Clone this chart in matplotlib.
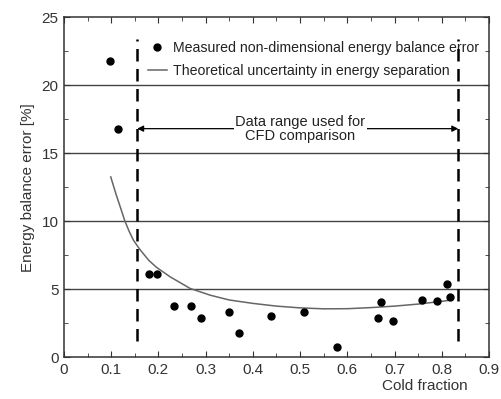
import matplotlib
matplotlib.use("Agg")
import matplotlib.pyplot as plt
from matplotlib.ticker import MultipleLocator

plt.rcParams['font.family'] = ['Liberation Sans', 'DejaVu Sans']

# measured non-dimensional energy balance error
cold_frac = [0.0975, 0.114, 0.181, 0.197, 0.232, 0.268, 0.291, 0.349, 0.371,
             0.439, 0.509, 0.578, 0.664, 0.671, 0.696, 0.759, 0.789, 0.811, 0.818]
meas_err = [21.8, 16.8, 6.1, 6.1, 3.75, 3.77, 2.85, 3.33, 1.76,
            2.99, 3.33, 0.74, 2.89, 4.02, 2.67, 4.19, 4.12, 5.39, 4.39]

# theoretical uncertainty curve
theo_x = [0.099, 0.11, 0.12, 0.129, 0.138, 0.147, 0.161, 0.18, 0.196, 0.225, 0.267,
          0.31, 0.35, 0.4, 0.45, 0.5, 0.55, 0.6, 0.65, 0.7, 0.75, 0.8, 0.82]
theo_y = [13.25, 12.0, 10.95, 10.0, 9.25, 8.6, 7.9, 7.1, 6.6, 5.9, 5.05,
          4.55, 4.2, 3.95, 3.75, 3.62, 3.55, 3.56, 3.64, 3.75, 3.9, 4.1, 4.2]

range_lo, range_hi = 0.155, 0.835

fig = plt.figure(figsize=(5.02, 3.99), dpi=100)
ax = fig.add_axes([0.1275, 0.105, 0.8465, 0.852])

for yv in [5, 10, 15, 20]:
    ax.axhline(yv, color="#444444", linewidth=1.0, zorder=1)

ax.plot(theo_x, theo_y, color="#666666", linewidth=1.1, zorder=3,
        label="Theoretical uncertainty in energy separation")
ax.plot(cold_frac, meas_err, "o", color="black", markersize=5, zorder=4,
        label="Measured non-dimensional energy balance error")

for xv in [range_lo, range_hi]:
    ax.plot([xv, xv], [1.2, 23.4], color="black", linewidth=1.8,
            dashes=(5, 3), zorder=5)

# arrow for data range
ax.annotate("", xy=(range_lo, 16.8), xytext=(range_hi, 16.8),
            arrowprops=dict(arrowstyle="<|-|>", color="black", lw=0.9,
                            mutation_scale=9, shrinkA=0, shrinkB=0), zorder=2)
ax.text(0.5, 16.8, "Data range used for\nCFD comparison", ha="center", va="center",
        fontsize=10.5, linespacing=1.0, color="#222222", zorder=3,
        bbox=dict(facecolor="white", edgecolor="none", pad=1.0))

handles, labels = ax.get_legend_handles_labels()
leg = ax.legend(handles[::-1], labels[::-1], loc="upper left",
                bbox_to_anchor=(0.198, 0.93), frameon=False, fontsize=10.2,
                handlelength=1.3, handletextpad=0.45, labelspacing=0.65,
                borderaxespad=0, borderpad=0, labelcolor="#222222")
leg.set_zorder(4)

ax.set_xlim(0, 0.9)
ax.set_ylim(0, 25)
ax.xaxis.set_major_locator(MultipleLocator(0.1))
ax.xaxis.set_minor_locator(MultipleLocator(0.05))
ax.yaxis.set_major_locator(MultipleLocator(5))
ax.yaxis.set_minor_locator(MultipleLocator(2.5))
ax.xaxis.set_major_formatter(plt.FuncFormatter(lambda v, p: "0" if abs(v) < 1e-9 else f"{v:.1f}"))
ax.tick_params(which="both", direction="in", top=True, right=True,
               labelsize=11, colors="#333333", labelcolor="#333333")
ax.tick_params(which="major", length=4, pad=4)
ax.tick_params(which="minor", length=3)
for s in ax.spines.values():
    s.set_color("#333333")
    s.set_linewidth(1.1)

ax.set_ylabel("Energy balance error [%]", fontsize=11, color="#333333", labelpad=5)
fig.text(0.932, 0.015, "Cold fraction", ha="right", va="bottom", fontsize=11,
         color="#333333")

fig.savefig("out.png", dpi=100)
